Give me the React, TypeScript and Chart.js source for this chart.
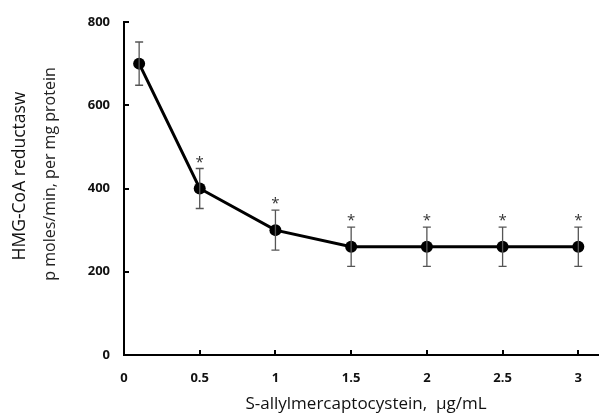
import React, { useEffect, useRef } from "react";
import { Chart, registerables } from "chart.js";

Chart.register(...registerables);

const concentrations = [0.1, 0.5, 1, 1.5, 2, 2.5, 3];
const activity = [700, 400, 300, 260, 260, 260, 260];
const errors = [52, 48, 48, 47, 47, 47, 47];
const significant = [false, true, true, true, true, true, true];
const xTicks = [0, 0.5, 1, 1.5, 2, 2.5, 3];
const yTicks = [0, 200, 400, 600, 800];

const xTitle = "S-allylmercaptocystein,  \u03bcg/mL";
const yTitleMain = "HMG-CoA reductasw";
const yTitleSub = "p moles/min, per mg protein";

const FONT = "'Open Sans', 'Noto Sans', sans-serif";

const extrasPlugin = {
  id: "extras",
  afterDraw(chart: any) {
    const ctx = chart.ctx;
    const xs = chart.scales.x;
    const ys = chart.scales.y;
    const area = chart.chartArea;
    ctx.save();
    // tick marks (inward)
    ctx.strokeStyle = "#000";
    ctx.lineWidth = 2;
    yTicks.forEach((v) => {
      if (v === 0) return;
      const y = Math.round(ys.getPixelForValue(v));
      ctx.beginPath();
      ctx.moveTo(area.left, y);
      ctx.lineTo(area.left + 5, y);
      ctx.stroke();
    });
    xTicks.forEach((v) => {
      if (v === 0) return;
      const x = Math.round(xs.getPixelForValue(v));
      ctx.beginPath();
      ctx.moveTo(x, area.bottom);
      ctx.lineTo(x, area.bottom - 5);
      ctx.stroke();
    });
    // error bars
    ctx.strokeStyle = "#555";
    ctx.lineWidth = 1.3;
    concentrations.forEach((c, i) => {
      const x = xs.getPixelForValue(c);
      const yTop = ys.getPixelForValue(activity[i] + errors[i]);
      const yBot = ys.getPixelForValue(activity[i] - errors[i]);
      ctx.beginPath();
      ctx.moveTo(x, yTop);
      ctx.lineTo(x, yBot);
      ctx.moveTo(x - 4, yTop);
      ctx.lineTo(x + 4, yTop);
      ctx.moveTo(x - 4, yBot);
      ctx.lineTo(x + 4, yBot);
      ctx.stroke();
      if (significant[i]) {
        ctx.fillStyle = "#333";
        ctx.font = `15px ${FONT}`;
        ctx.textAlign = "center";
        ctx.textBaseline = "middle";
        ctx.fillText("*", x, yTop - 6);
      }
    });
    // titles
    ctx.fillStyle = "#111";
    ctx.textAlign = "center";
    ctx.textBaseline = "middle";
    ctx.font = `17px ${FONT}`;
    ctx.fillText(xTitle, 366, 404);
    ctx.save();
    ctx.translate(20, 176);
    ctx.rotate(-Math.PI / 2);
    ctx.font = `17.5px ${FONT}`;
    ctx.fillText(yTitleMain, 0, 0);
    ctx.restore();
    ctx.save();
    ctx.translate(50, 174);
    ctx.rotate(-Math.PI / 2);
    ctx.font = `16px ${FONT}`;
    ctx.fillStyle = "#222";
    ctx.fillText(yTitleSub, 0, 0);
    ctx.restore();
    ctx.restore();
  },
};

export default function App() {
  const ref = useRef<HTMLCanvasElement>(null);
  useEffect(() => {
    if (!ref.current) return;
    const chart = new Chart(ref.current, {
      type: "line",
      data: {
        datasets: [
          {
            data: concentrations.map((c, i) => ({ x: c, y: activity[i] })),
            borderColor: "#000",
            backgroundColor: "#000",
            borderWidth: 3,
            pointRadius: 6,
            pointBackgroundColor: "#000",
            pointBorderWidth: 0,
            tension: 0,
          },
        ],
      },
      options: {
        responsive: false,
        animation: false,
        layout: { padding: { top: 22, right: 1, left: 0, bottom: 0 } },
        plugins: { legend: { display: false }, tooltip: { enabled: false } },
        scales: {
          x: {
            type: "linear",
            min: 0,
            max: 3.13,
            afterBuildTicks: (s: any) => {
              s.ticks = xTicks.map((v) => ({ value: v }));
            },
            afterFit: (s: any) => {
              s.height = 64;
            },
            grid: { drawOnChartArea: false, drawTicks: false },
            border: { display: true, color: "#000", width: 2 },
            ticks: {
              padding: 15,
              color: "#111",
              font: { family: FONT, size: 13, weight: "bold" },
              maxRotation: 0,
              callback: (v: any) => String(v),
            },
          },
          y: {
            min: 0,
            max: 800,
            afterBuildTicks: (s: any) => {
              s.ticks = yTicks.map((v) => ({ value: v }));
            },
            afterFit: (s: any) => {
              s.width = 124;
            },
            grid: { drawOnChartArea: false, drawTicks: false },
            border: { display: true, color: "#000", width: 2 },
            ticks: {
              padding: 14,
              color: "#111",
              font: { family: FONT, size: 13, weight: "bold" },
              callback: (v: any) => String(v),
            },
          },
        },
      },
      plugins: [extrasPlugin],
    });
    return () => chart.destroy();
  }, []);
  return (
    <div style={{ position: "fixed", left: 0, top: 0, width: 604, height: 419, background: "#fff" }}>
      <canvas ref={ref} width={604} height={419} style={{ width: 604, height: 419 }} />
    </div>
  );
}
